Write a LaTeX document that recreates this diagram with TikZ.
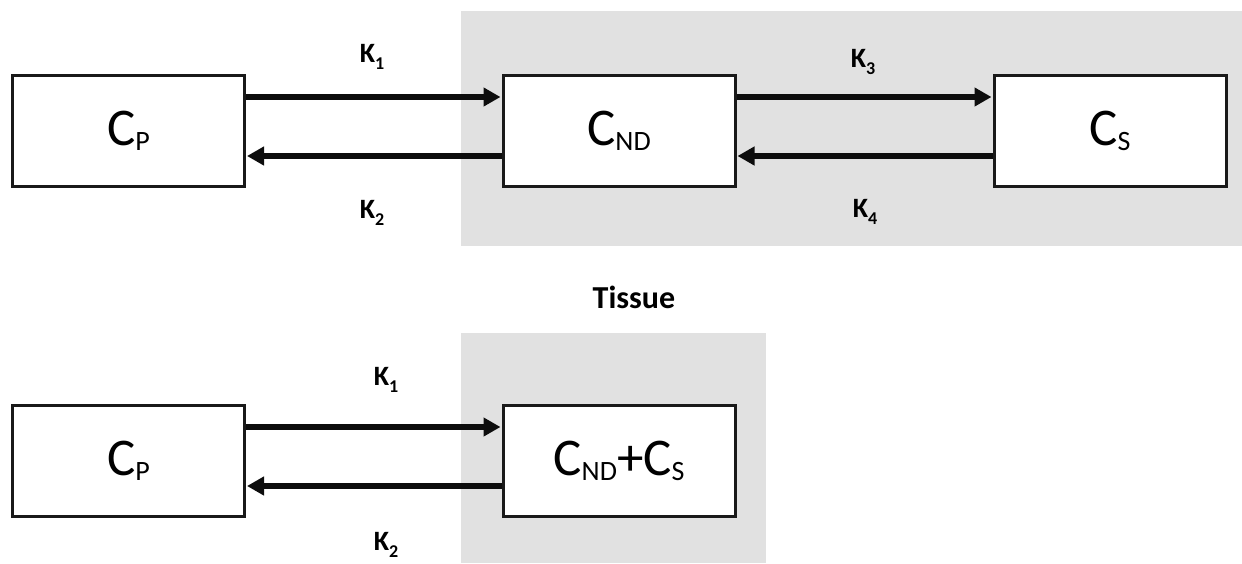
\documentclass[tikz,border=0pt]{standalone}
\usepackage{fontspec}
\setmainfont{Carlito}
\definecolor{tissuegray}{HTML}{E1E1E1}
\usepackage{tikz}
\usetikzlibrary{arrows.meta,positioning}
\newcommand{\boxsub}[1]{\raisebox{-5pt}{\fontsize{28}{30}\selectfont #1}}
\newcommand{\ksub}[1]{\raisebox{-7pt}{\fontsize{18}{20}\selectfont #1}}

\begin{document}
\begin{tikzpicture}[x=1pt,y=-1pt,
    compartment/.style={draw=black!90,line width=3pt,fill=white,minimum width=232pt,minimum height=111pt,inner sep=0pt,font=\fontsize{53}{60}\selectfont},
    flow/.style={line width=5.5pt,black!95,-{Triangle[length=17pt,width=18pt]},shorten >=1pt},
    rate/.style={font=\fontsize{28}{30}\selectfont\bfseries}]
    \useasboundingbox (0,0) rectangle (1242,563);
    \fill[tissuegray] (461,11) rectangle (1242,246);
    \fill[tissuegray] (461,333) rectangle (766,563);
    \node[compartment] (cp) at (128.5,130.5) {C\boxsub{P}};
    \node[compartment] (cnd) at (619,130.5) {C\boxsub{ND}};
    \node[compartment] (cs) at (1110,130.5) {C\boxsub{S}};
    \draw[flow] ([yshift=33.5pt]cp.east) -- ([yshift=33.5pt]cnd.west);
    \draw[flow] ([yshift=-25.5pt]cnd.west) -- ([yshift=-25.5pt]cp.east);
    \draw[flow] ([yshift=33.5pt]cnd.east) -- ([yshift=33.5pt]cs.west);
    \draw[flow] ([yshift=-25.5pt]cs.west) -- ([yshift=-25.5pt]cnd.east);
    \node[rate] (k1) at (372,57) {K\ksub{1}};
    \node[rate] (k2) at (372,213) {K\ksub{2}};
    \node[rate] (k3) at (863,62) {K\ksub{3}};
    \node[rate] (k4) at (865,212) {K\ksub{4}};
    \node[font=\fontsize{32}{34}\selectfont\bfseries] (tissue) at (634,297) {Tissue};
    \node[compartment] (cp2) at (128.5,460.5) {C\boxsub{P}};
    \node[compartment] (cndcs) at (619,460.5) {C\boxsub{ND}+C\boxsub{S}};
    \draw[flow] ([yshift=33.5pt]cp2.east) -- ([yshift=33.5pt]cndcs.west);
    \draw[flow] ([yshift=-25.5pt]cndcs.west) -- ([yshift=-25.5pt]cp2.east);
    \node[rate] (k1b) at (386,380) {K\ksub{1}};
    \node[rate] (k2b) at (386,545) {K\ksub{2}};
\end{tikzpicture}
\end{document}
